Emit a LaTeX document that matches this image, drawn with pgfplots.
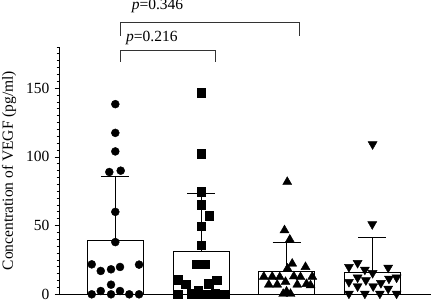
\documentclass[border=0pt]{standalone}
\usepackage{fontspec}
\setmainfont{Liberation Serif}
\usepackage{pgfplots}
\pgfplotsset{compat=1.18}
\begin{document}
\begin{tikzpicture}[x=1pt,y=1pt]
\useasboundingbox (0,0) rectangle (431,301);
\begin{axis}[
  at={(59pt,6.7pt)}, anchor=south west,
  scale only axis, width=377.7pt, height=247.3pt,
  xmin=0.343, xmax=4.75, ymin=0, ymax=180,
  axis x line=bottom, axis y line=left,
  axis line style={-, line width=1pt},
  xtick=\empty,
  ytick={0,50,100,150}, minor ytick={0,5,...,180},
  tick align=outside, major tick length=4.5pt, minor tick length=2.5pt,
  tick style={line width=0.8pt, black},
  /pgf/number format/assume math mode=true,
  ticklabel style={font=\fontsize{15.5}{18}\selectfont},
  yticklabel style={xshift=-1.5pt},
  ylabel={Concentration of VEGF (pg/ml)},
  ylabel style={font=\fontsize{15.5}{18}\selectfont, at={(axis description cs:-0.1324,0.5)}, anchor=center},
  clip=false,
]
\addplot[ybar, bar width=56pt, fill=white, draw=black, line width=1pt,
  error bars/.cd, y dir=plus, y explicit,
  error mark options={rotate=90, mark size=14pt, line width=1pt, black},
  error bar style={line width=1pt, black}]
  coordinates {(1,39.5) +- (0,46.1) (2,31.0) +- (0,42.7) (3,16.4) +- (0,21.2) (4,16.0) +- (0,25.2)};
% group 1
\addplot[only marks, mark=*, mark size=4pt, black] table {
x y
1.000 138.4
1.000 117.5
1.000 104
0.930 89
1.063 90
1.000 60
1.000 38
0.725 21.8
0.830 17
0.950 18.2
1.055 19.9
1.277 21.6
0.950 7
0.830 2.4
1.055 2.4
0.725 0
0.950 0
1.163 0
1.277 0
};
% group 2
\addplot[only marks, mark=square*, mark size=4.3pt, black] table {
x y
2.002 146.8
2.002 102.5
2.002 74.5
2.002 65.3
2.096 57
2.002 49.7
2.002 35.7
1.952 21.8
2.049 21.8
1.730 10.7
1.824 7.3
2.088 7.8
2.186 10.2
1.968 3
1.730 0
1.894 0.5
2.002 0
2.088 0
2.166 0.5
2.274 0
};
% group 3
\addplot[only marks, mark=triangle*, mark size=5.2pt, black] table {
x y
3.006 81.8
2.974 46.6
3.036 39.8
3.064 22.3
3.009 18.7
3.219 19.9
2.733 12.8
2.831 12.8
2.919 12.5
3.083 13
3.161 12.5
3.298 12.8
2.791 7
2.889 7
2.986 9
3.123 7
3.231 7.5
3.278 6.5
2.959 0.3
3.044 0.3
2.998 2
};
% group 4
\addplot[only marks, mark=triangle*, mark size=5.2pt, mark options={rotate=180}, black] table {
x y
4.002 109.2
3.998 51
3.726 19.9
3.827 22.8
3.912 17.9
4.002 15.5
4.184 19.4
3.726 9
3.827 12.2
3.827 5.8
3.924 10.2
4.009 5.8
4.099 8.2
4.193 11.4
4.282 12.2
4.184 4.1
3.726 0.5
3.912 0.5
4.087 0.5
4.282 0.5
};
\draw[line width=0.9pt, black!80] (axis cs:1.055,169.1) -- (axis cs:1.055,177.8) -- (axis cs:2.163,177.8) -- (axis cs:2.163,169.1);
\draw[line width=0.9pt, black!80] (axis cs:1.055,188) -- (axis cs:1.055,197.7) -- (axis cs:3.144,197.7) -- (axis cs:3.144,188);
\node[anchor=base west, inner sep=0pt, font=\fontsize{15.5}{18}\selectfont] at (axis cs:1.125,183.9) {\textit{p}=0.216};
\node[anchor=base west, inner sep=0pt, font=\fontsize{15.5}{18}\selectfont] at (axis cs:1.191,207) {\textit{p}=0.346};
\end{axis}
\end{tikzpicture}
\end{document}
